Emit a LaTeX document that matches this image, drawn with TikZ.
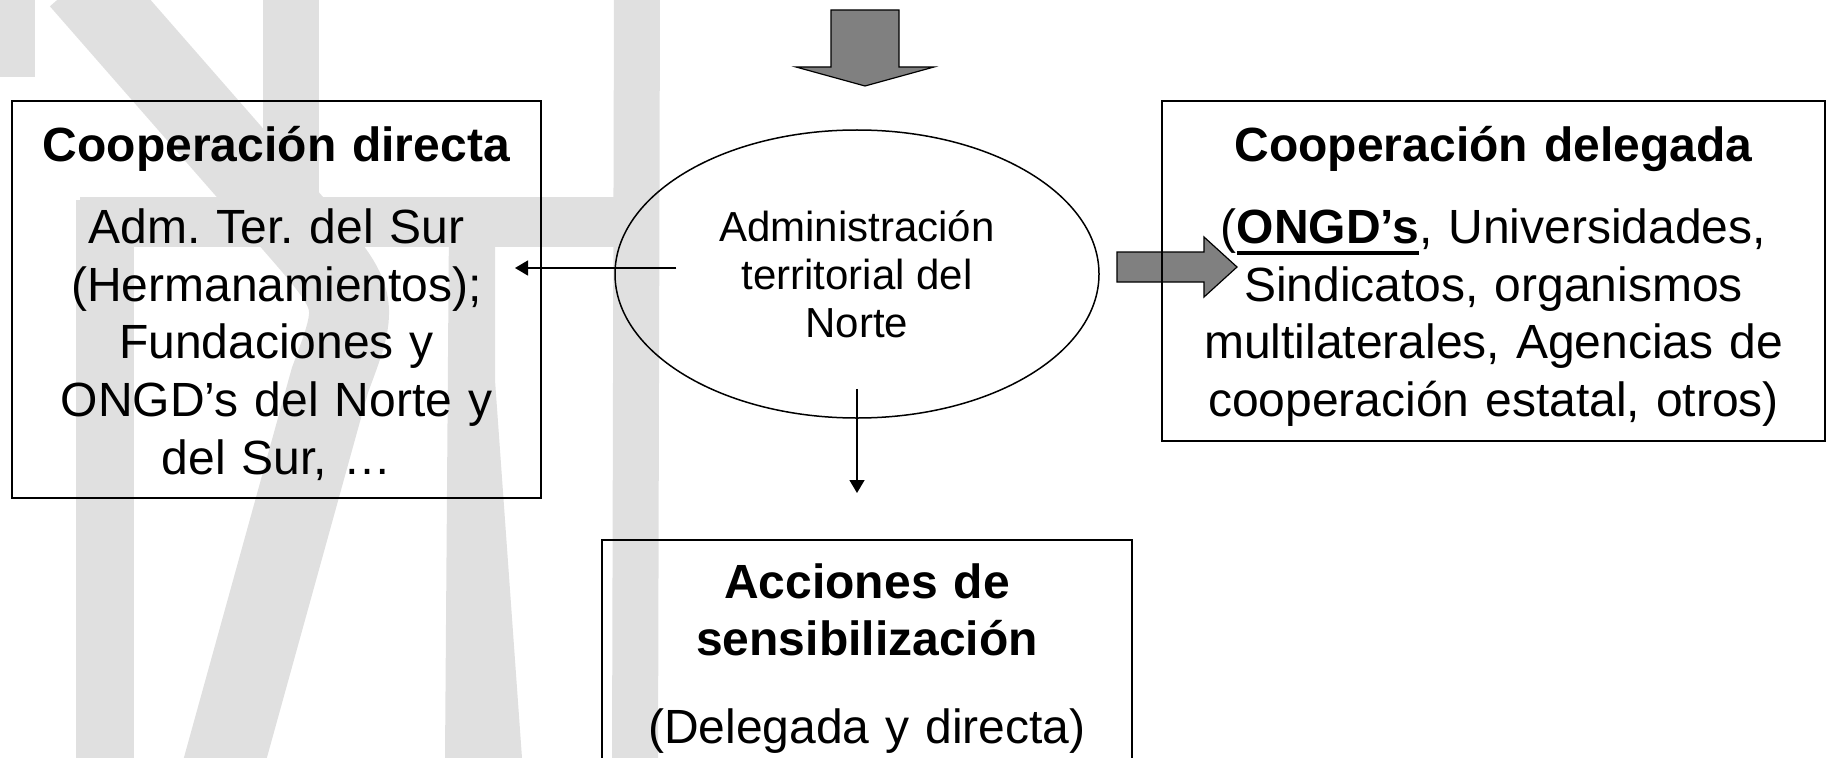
\documentclass[tikz,border=0pt]{standalone}
\usepackage{fontspec}
\setmainfont{Liberation Sans}
\usetikzlibrary{shapes.geometric,arrows.meta}
\definecolor{wmgray}{RGB}{224,224,224}
\definecolor{arrgray}{RGB}{128,128,128}
\newcommand{\thickul}[1]{\setbox0=\hbox{#1}\rlap{\rule[-11bp]{\wd0}{3.5bp}}\box0}
\frenchspacing

\begin{document}
\begin{tikzpicture}[x=1bp,y=-1bp,
    coopbox/.style={draw, line width=2bp, inner sep=0pt, align=center,
      anchor=north west, font=\fontsize{48bp}{57.6bp}\selectfont},
    thinarrow/.style={line width=1.5bp, -{Triangle[length=13bp,width=15bp]}},
    wmband/.style={wmgray, line width=#1},
    bigarrow/.style={fill=arrgray, draw=black, line width=1.2bp}]

  \useasboundingbox (0,0) rectangle (1828,758);

  % Watermark in the background
  \fill[wmgray] (0,0) rectangle (35,77);
  \draw[wmband=46bp] (637,-10) -- (635,770);
  \draw[wmband=50bp] (80,222) -- (640,222);
  \draw[wmband=56bp] (291,-10) -- (291,222);
  \draw[wmband=58bp] (105,200) -- (105,770);
  \draw[wmband=80bp] (80,-20) -- (290,220) .. controls (360,300) .. (330,380) -- (222,770);
  \fill[wmgray] (449,222) -- (495,222) -- (495,380) -- (522,758) -- (445,758) -- cycle;

  % Block arrows
  \draw[bigarrow] (831,10) -- (899,10) -- (899,67) -- (934,67) -- (865,86)
    -- (796,67) -- (831,67) -- cycle;
  \draw[bigarrow] (1117,252) -- (1204,252) -- (1204,237) -- (1237,267)
    -- (1204,297) -- (1204,282) -- (1117,282) -- cycle;

  % Administration and the three kinds of action
  \node[ellipse, draw, line width=1.5bp, minimum width=484bp, minimum height=288bp,
    inner sep=0pt, align=center, font=\fontsize{42bp}{48bp}\selectfont]
    (adm) at (857,274) {Administración\\territorial del\\Norte};
  \node[coopbox, text width=529bp, text height=60bp, text depth=337bp]
    (direct) at (11,100) {\textbf{Cooperación directa}\\[25bp]
    Adm. Ter. del Sur\\(Hermanamientos);\\Fundaciones y\\ONGD’s del Norte y\\del Sur, …};
  \node[coopbox, text width=663bp, text height=60bp, text depth=280bp]
    (deleg) at (1161,100) {\textbf{Cooperación delegada}\\[25bp]
    (\thickul{\textbf{ONGD’s}}, Universidades,\\Sindicatos, organismos\\
    multilaterales, Agencias de\\cooperación estatal, otros)};
  \node[coopbox, text width=530bp, text height=58bp, text depth=210bp]
    (sens) at (601,539) {\textbf{Acciones de}\\\textbf{sensibilización}\\[30bp]
    (Delegada y directa)};

  % Thin connectors
  \draw[thinarrow] ([xshift=62bp,yshift=6bp]adm.west)
    -- ([xshift=-27bp,yshift=6bp]adm.west -| direct.east);
  \draw[thinarrow] ([yshift=30bp]adm.south) -- ([yshift=46bp]adm.south |- sens.north);
\end{tikzpicture}
\end{document}
